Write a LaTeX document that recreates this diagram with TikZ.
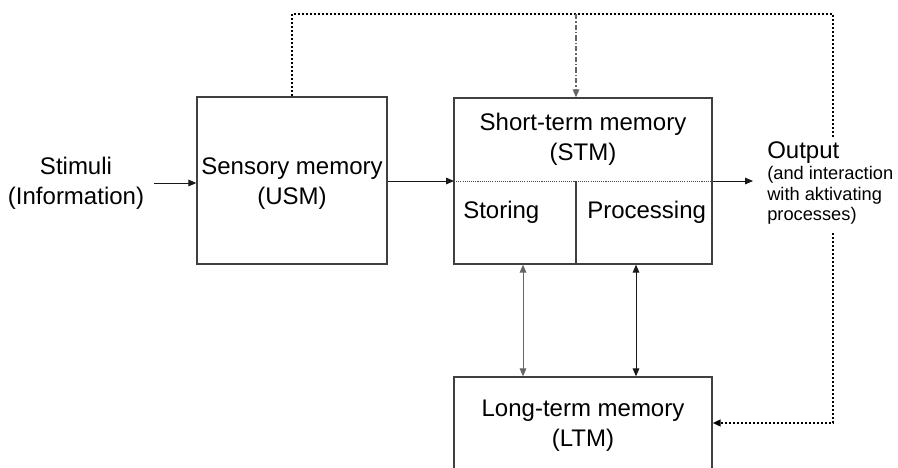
\documentclass[tikz,border=0pt]{standalone}
\usepackage{fontspec}
\setmainfont{Liberation Sans}
\usetikzlibrary{arrows.meta,fit}
\begin{document}
\begin{tikzpicture}[x=0.75pt,y=-0.75pt,
  box/.style={draw=black!75,line width=1pt,inner sep=0pt},
  lbl/.style={inner sep=0pt,align=center,font=\fontsize{18}{22.5}\selectfont},
  small/.style={inner sep=0pt,align=left,font=\fontsize{13.7}{15.4}\selectfont},
  tip/.style={-{Triangle[length=6pt,width=5pt]}},
  tips/.style={{Triangle[length=6pt,width=5pt]}-{Triangle[length=6pt,width=5pt]}},
  conn/.style={line width=0.75pt,draw=black!90},
  fb/.style={line width=1.6pt,dash pattern=on 1.6pt off 1.4pt},
  dd/.style={line width=1pt,draw=black!60,dash pattern=on 4pt off 1.5pt on 1pt off 1.5pt},
  divd/.style={line width=0.5pt,draw=black!70,dash pattern=on 0.8pt off 0.8pt}]
\clip (0,0) rectangle (898,467);
\fill[white] (0,0) rectangle (898,467);
% boxes
\node[box,fit={(197,97) (387,264)}] (usm) {};
\node[box,fit={(454,98) (712,264)}] (stm) {};
\node[box,fit={(454,377) (712,490)}] (ltm) {};
% helper coordinates
\coordinate (divL) at (454,181);
\coordinate (divM) at (576,181);
\coordinate (fbR) at (833,14);
\coordinate (fbRend) at (833,138);
\coordinate (mid) at (576,14);
\coordinate (fbB) at (833,233);
\coordinate (ylt) at (0,423);
\coordinate (b1) at (523,0);
\coordinate (b2) at (636,0);
\coordinate (outin) at (753,181);
% texts
\node[lbl] (stim) at (76,183) {Stimuli\\(Information)};
\node[lbl] (usmt) at (292,184) {Sensory memory\\(USM)};
\node[lbl] (stmt) at (583,139) {Short-term memory\\(STM)};
\node[lbl,anchor=west] (stor) at (463,212) {Storing};
\node[lbl,anchor=west] (proc) at (587,212) {Processing};
\node[lbl] (ltmt) at (583,426) {Long-term memory\\(LTM)};
\node[lbl,anchor=west] (out) at (767,153) {Output};
\node[small,anchor=north west] (outnote) at (767,166) {(and interaction\\with aktivating\\processes)};
% STM dividers
\draw[divd] (divL) -- (divL -| stm.east);
\draw[box] (divM) -- (divM |- stm.south);
% connectors
\draw[conn,tip] ([xshift=7.5pt]stim.east) -- (stim.east -| usm.west);
\draw[conn,tip] (usm.east |- divL) -- (divL);
\draw[conn,tip] (stm.east |- divL) -- (outin);
\draw[conn,tips,draw=black!60] (stm.south -| b1) -- (ltm.north -| b1);
\draw[conn,tips] (stm.south -| b2) -- (ltm.north -| b2);
% feedback
\draw[fb] (usm.north) -- (usm.north |- fbR) -- (fbR) -- (fbRend);
\draw[dd,tip] (mid) -- (mid |- stm.north);
\draw[fb,tip] (fbB) |- (ltm.east |- ylt);
\end{tikzpicture}
\end{document}
